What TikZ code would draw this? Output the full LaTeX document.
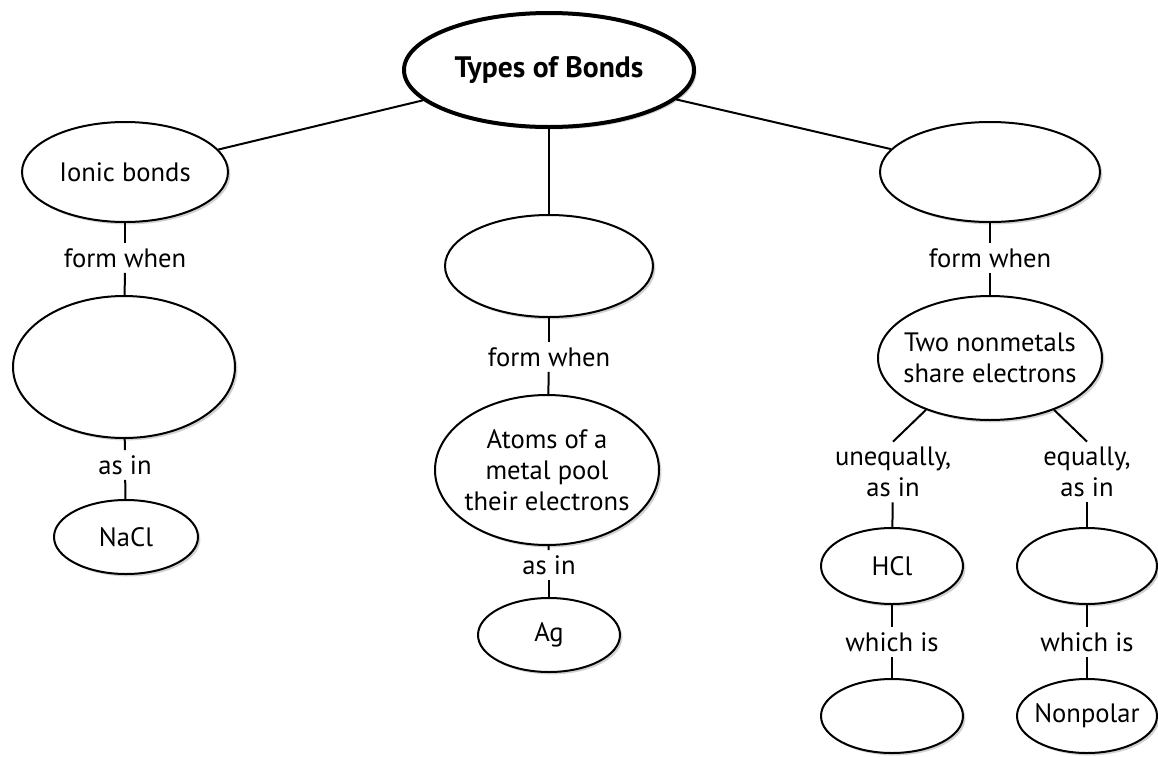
\documentclass[tikz,border=0pt]{standalone}
\usepackage{fontspec}
\setmainfont{PT Sans}
\usepackage{tikz}
\usetikzlibrary{shapes.geometric,shadows}
\newcommand{\mapfont}{\fontsize{13.3}{15.5}\selectfont}

\begin{document}
\begin{tikzpicture}[x=0.5pt,y=-0.5pt,
  every node/.append style={font=\mapfont},
  bubble/.style={ellipse,draw,line width=1pt,fill=white,inner xsep=-6pt,inner ysep=0pt,align=center,
    drop shadow={shadow xshift=1.2pt,shadow yshift=-1.2pt,fill=black,opacity=0.18}},
  link/.style={inner sep=2.5pt,align=center},
  conn/.style={line width=1pt}]
\useasboundingbox (0,0) rectangle (1158,756);
\node[bubble,line width=2pt,minimum width=145pt,minimum height=57pt,font=\fontsize{14.8}{17}\selectfont\bfseries] (types) at (549,70) {Types of Bonds};
\node[bubble,minimum width=103pt,minimum height=50pt] (ionic) at (125,172) {Ionic bonds};
\node[link] (fw1) at (125,258) {form when};
\node[bubble,minimum width=111pt,minimum height=71pt] (ionform) at (124,367) {};
\node[link] (asin1) at (125,465) {as in};
\node[bubble,minimum width=72pt,minimum height=37pt] (nacl) at (126,537) {NaCl};
\node[bubble,minimum width=104pt,minimum height=51pt] (metallic) at (549,266) {};
\node[link] (fw2) at (549,357) {form when};
\node[bubble,minimum width=112pt,minimum height=75pt] (atoms) at (547,470) {Atoms of a\\metal pool\\their electrons};
\node[link] (asin2) at (549,565) {as in};
\node[bubble,minimum width=71pt,minimum height=37pt] (ag) at (549,635) {Ag};
\node[bubble,minimum width=110pt,minimum height=50pt] (covalent) at (990,172) {};
\node[link] (fw3) at (990,258) {form when};
\node[bubble,minimum width=112pt,minimum height=62pt] (twonm) at (990,358) {Two nonmetals\\share electrons};
\node[link] (uneq) at (893,472) {unequally,\\as in};
\node[link] (eq) at (1087,472) {equally,\\as in};
\node[bubble,minimum width=71pt,minimum height=38pt] (hcl) at (892,566) {HCl};
\node[bubble,minimum width=70pt,minimum height=38pt] (eqex) at (1087,566) {};
\node[link] (wi1) at (892,642) {which is};
\node[link] (wi2) at (1087,642) {which is};
\node[bubble,minimum width=71pt,minimum height=37pt] (polar) at (892,716) {};
\node[bubble,minimum width=70pt,minimum height=37pt] (nonpolar) at (1087,716) {Nonpolar};
% connectors
\draw[conn] (types) -- (ionic);
\draw[conn] (types) -- (metallic);
\draw[conn] (types) -- (covalent);
\draw[conn] (ionic) -- (fw1);
\draw[conn] (fw1) -- (ionform);
\draw[conn] (ionform) -- (asin1);
\draw[conn] (asin1) -- (nacl);
\draw[conn] (metallic) -- (fw2);
\draw[conn] (fw2) -- (atoms);
\draw[conn] (atoms) -- (asin2);
\draw[conn] (asin2) -- (ag);
\draw[conn] (covalent) -- (fw3);
\draw[conn] (fw3) -- (twonm);
\draw[conn] (twonm.-141) -- (uneq.north);
\draw[conn] (twonm.-39) -- (eq.north);
\draw[conn] (uneq) -- (hcl);
\draw[conn] (eq) -- (eqex);
\draw[conn] (hcl) -- (wi1);
\draw[conn] (eqex) -- (wi2);
\draw[conn] (wi1) -- (polar);
\draw[conn] (wi2) -- (nonpolar);
\end{tikzpicture}
\end{document}
